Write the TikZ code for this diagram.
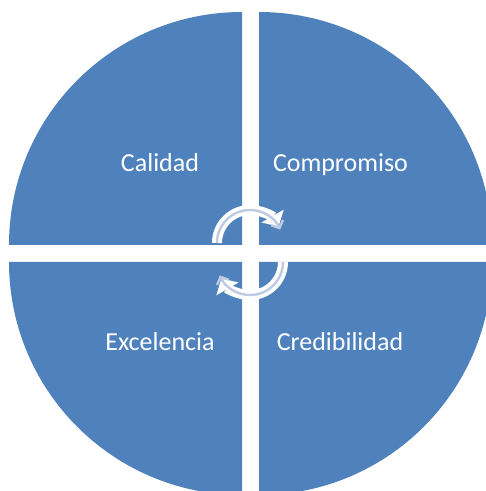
\documentclass[tikz,border=0pt]{standalone}
\usepackage{fontspec}
\setmainfont{Carlito}
\usetikzlibrary{arrows.meta}
\definecolor{quadblue}{HTML}{4F81BD}
\definecolor{arrowline}{HTML}{BCCBE2}
\tikzset{
  quadrant/.style={fill=quadblue, draw=none},
  label/.style={text=white, font=\fontsize{26}{30}\selectfont, anchor=base},
  cyclearrow/.style={white, line width=10pt, -{Triangle[length=12pt,width=25pt]}},
  cycleline/.style={arrowline, line width=2.4pt, -{Straight Barb[length=6pt,width=13pt]}}
}
\begin{document}
\begin{tikzpicture}[x=1pt,y=1pt]
                \useasboundingbox (0,0) rectangle (486,491);
                \clip (0,0) rectangle (486,491);

                \fill[quadrant] (242,246) -- (9,246) arc[start angle=180, end angle=90, radius=233] -- cycle;
                \fill[quadrant] (259,246) -- (259,479) arc[start angle=90, end angle=0, radius=233] -- cycle;
                \fill[quadrant] (242,229) -- (9,229) arc[start angle=180, end angle=270, radius=233] -- cycle;
                \fill[quadrant] (259,229) -- (492,229) arc[start angle=0, end angle=-90, radius=233] -- cycle;

                \node[label] (calidad) at (160,319) {Calidad};
                \node[label] (compromiso) at (340.5,319) {Compromiso};
                \node[label] (excelencia) at (160,140) {Excelencia};
                \node[label] (credibilidad) at (340,140) {Credibilidad};

                \coordinate (topc) at (250,248);
                \coordinate (botc) at (250,229);

                \draw[cyclearrow] ([shift={(180:33)}]topc) arc[start angle=180, end angle=30, radius=33];
                \draw[cycleline] ([shift={(180:33)}]topc) arc[start angle=180, end angle=24, radius=33];
                \draw[cyclearrow] ([shift={(0:33)}]botc) arc[start angle=0, end angle=-150, radius=33];
                \draw[cycleline] ([shift={(0:33)}]botc) arc[start angle=0, end angle=-156, radius=33];
            \end{tikzpicture}
\end{document}
